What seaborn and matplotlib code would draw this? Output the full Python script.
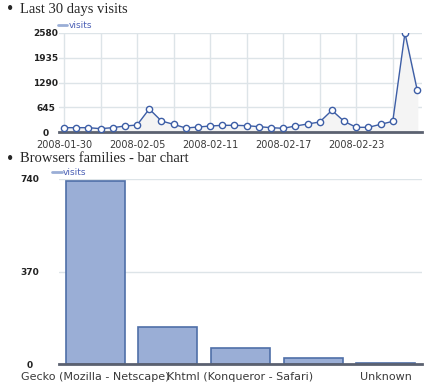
import matplotlib
matplotlib.use("Agg")
import matplotlib.pyplot as plt
import seaborn as sns
import numpy as np
import pandas as pd

# Last 30 days visits
days = pd.date_range("2008-01-30", "2008-02-28", freq="D")
visits = [113, 113, 113, 87, 113, 156, 182, 600, 287, 200, 104, 130, 156,
          174, 174, 165, 139, 113, 96, 156, 208, 261, 565, 278, 122, 122,
          200, 278, 2580, 1103]
visit_ticks = [0, 645, 1290, 1935, 2580]

# Browsers families
browsers = ["Gecko (Mozilla - Netscape)", "Khtml (Konqueror - Safari)",
            "Other 1", "Other 2", "Unknown"]
browser_visits = [733, 148, 64, 24, 5]
browser_tick_pos = [0, 2, 4]
browser_tick_labels = ["Gecko (Mozilla - Netscape)", "Khtml (Konqueror - Safari)", "Unknown"]
browser_yticks = [0, 370, 740]

sns.set_style("white")
plt.rcParams['font.family'] = ['DejaVu Sans']

line_col = "#3d5ea6"
bar_fill = "#9aaed6"
bar_edge = "#4f6fa8"
grid_col = "#dde4e8"
axis_col = "#5b6170"
legend_txt = "#4a5fb5"
title_font = "Liberation Serif"

fig = plt.figure(figsize=(4.3, 3.84), dpi=100)
W, H = 430, 384


def box(l, t, r, b):
    return [l / W, 1 - b / H, (r - l) / W, (b - t) / H]


# ---- top chart ----
ax1 = fig.add_axes(box(59, 33, 422, 132))
x = np.arange(len(days))
ax1.fill_between(x, visits, 0, color="#f4f4f4", zorder=1)
sns.lineplot(x=x, y=visits, ax=ax1, color=line_col, lw=1, marker="o",
             markersize=4.5, markerfacecolor="white", markeredgecolor=line_col,
             markeredgewidth=1, zorder=3)
ax1.set_xlim(-0.41, 29.4)
ax1.set_ylim(0, 2580)
ax1.set_yticks(visit_ticks)
ax1.set_yticklabels([str(v) for v in visit_ticks], fontsize=6.5,
                    fontweight="bold", color="#222222", ha="center")
ax1.tick_params(axis="y", length=0, pad=9.5)
xt = np.arange(0, 30, 3)
ax1.set_xticks(xt)
ax1.set_xticklabels([days[i].strftime("%Y-%m-%d") if k % 2 == 0 else ""
                     for k, i in enumerate(xt)], fontsize=7, color="#3a3a3a")
ax1.tick_params(axis="x", length=4, width=1.2, color=axis_col, pad=2, direction="out")
ax1.grid(True, color=grid_col, lw=1)
for s in ["top", "right", "left"]:
    ax1.spines[s].set_visible(False)
ax1.spines["bottom"].set_color(axis_col)
ax1.spines["bottom"].set_linewidth(2)
ax1.set_axisbelow(True)

fig.text(10 / W, 1 - 10 / H, "•", fontsize=13, family=title_font, va="center", ha="center")
fig.text(20 / W, 1 - 10 / H, "Last 30 days visits", fontsize=10.5,
         family=title_font, va="center")
fig.lines.append(plt.Line2D([58 / W, 67 / W], [1 - 25 / H] * 2, color=bar_fill,
                            lw=2, transform=fig.transFigure))
fig.text(69 / W, 1 - 25 / H, "visits", fontsize=6.5, color=legend_txt, va="center")

# ---- bottom chart ----
ax2 = fig.add_axes(box(59, 179, 422, 364))
df = pd.DataFrame({"browser": browsers, "visits": browser_visits})
sns.barplot(data=df, x="browser", y="visits", ax=ax2, color=bar_fill,
            saturation=1, width=0.81, edgecolor=bar_edge, linewidth=1.2, zorder=2)
ax2.set_xlim(-0.5, 4.5)
ax2.set_ylim(0, 740)
ax2.set_yticks(browser_yticks)
ax2.set_yticklabels([str(v) for v in browser_yticks], fontsize=6.5,
                    fontweight="bold", color="#222222", ha="center")
ax2.tick_params(axis="y", length=0, pad=21)
ax2.set_xticks(browser_tick_pos)
ax2.set_xticklabels(browser_tick_labels, fontsize=8, color="#3a3a3a")
ax2.tick_params(axis="x", length=4, width=1.2, color=axis_col, pad=2)
ax2.set_xlabel("")
ax2.set_ylabel("")
ax2.grid(True, axis="y", color=grid_col, lw=1)
for s in ["top", "right", "left"]:
    ax2.spines[s].set_visible(False)
ax2.spines["bottom"].set_color(axis_col)
ax2.spines["bottom"].set_linewidth(2)
ax2.set_axisbelow(True)

fig.text(10 / W, 1 - 159 / H, "•", fontsize=13, family=title_font, va="center", ha="center")
fig.text(20 / W, 1 - 159 / H, "Browsers families - bar chart", fontsize=10.5,
         family=title_font, va="center")
fig.lines.append(plt.Line2D([52 / W, 62 / W], [1 - 172 / H] * 2, color=bar_fill,
                            lw=2, transform=fig.transFigure))
fig.text(63 / W, 1 - 172 / H, "visits", fontsize=6.5, color=legend_txt, va="center")

fig.savefig("out.png", dpi=100)
